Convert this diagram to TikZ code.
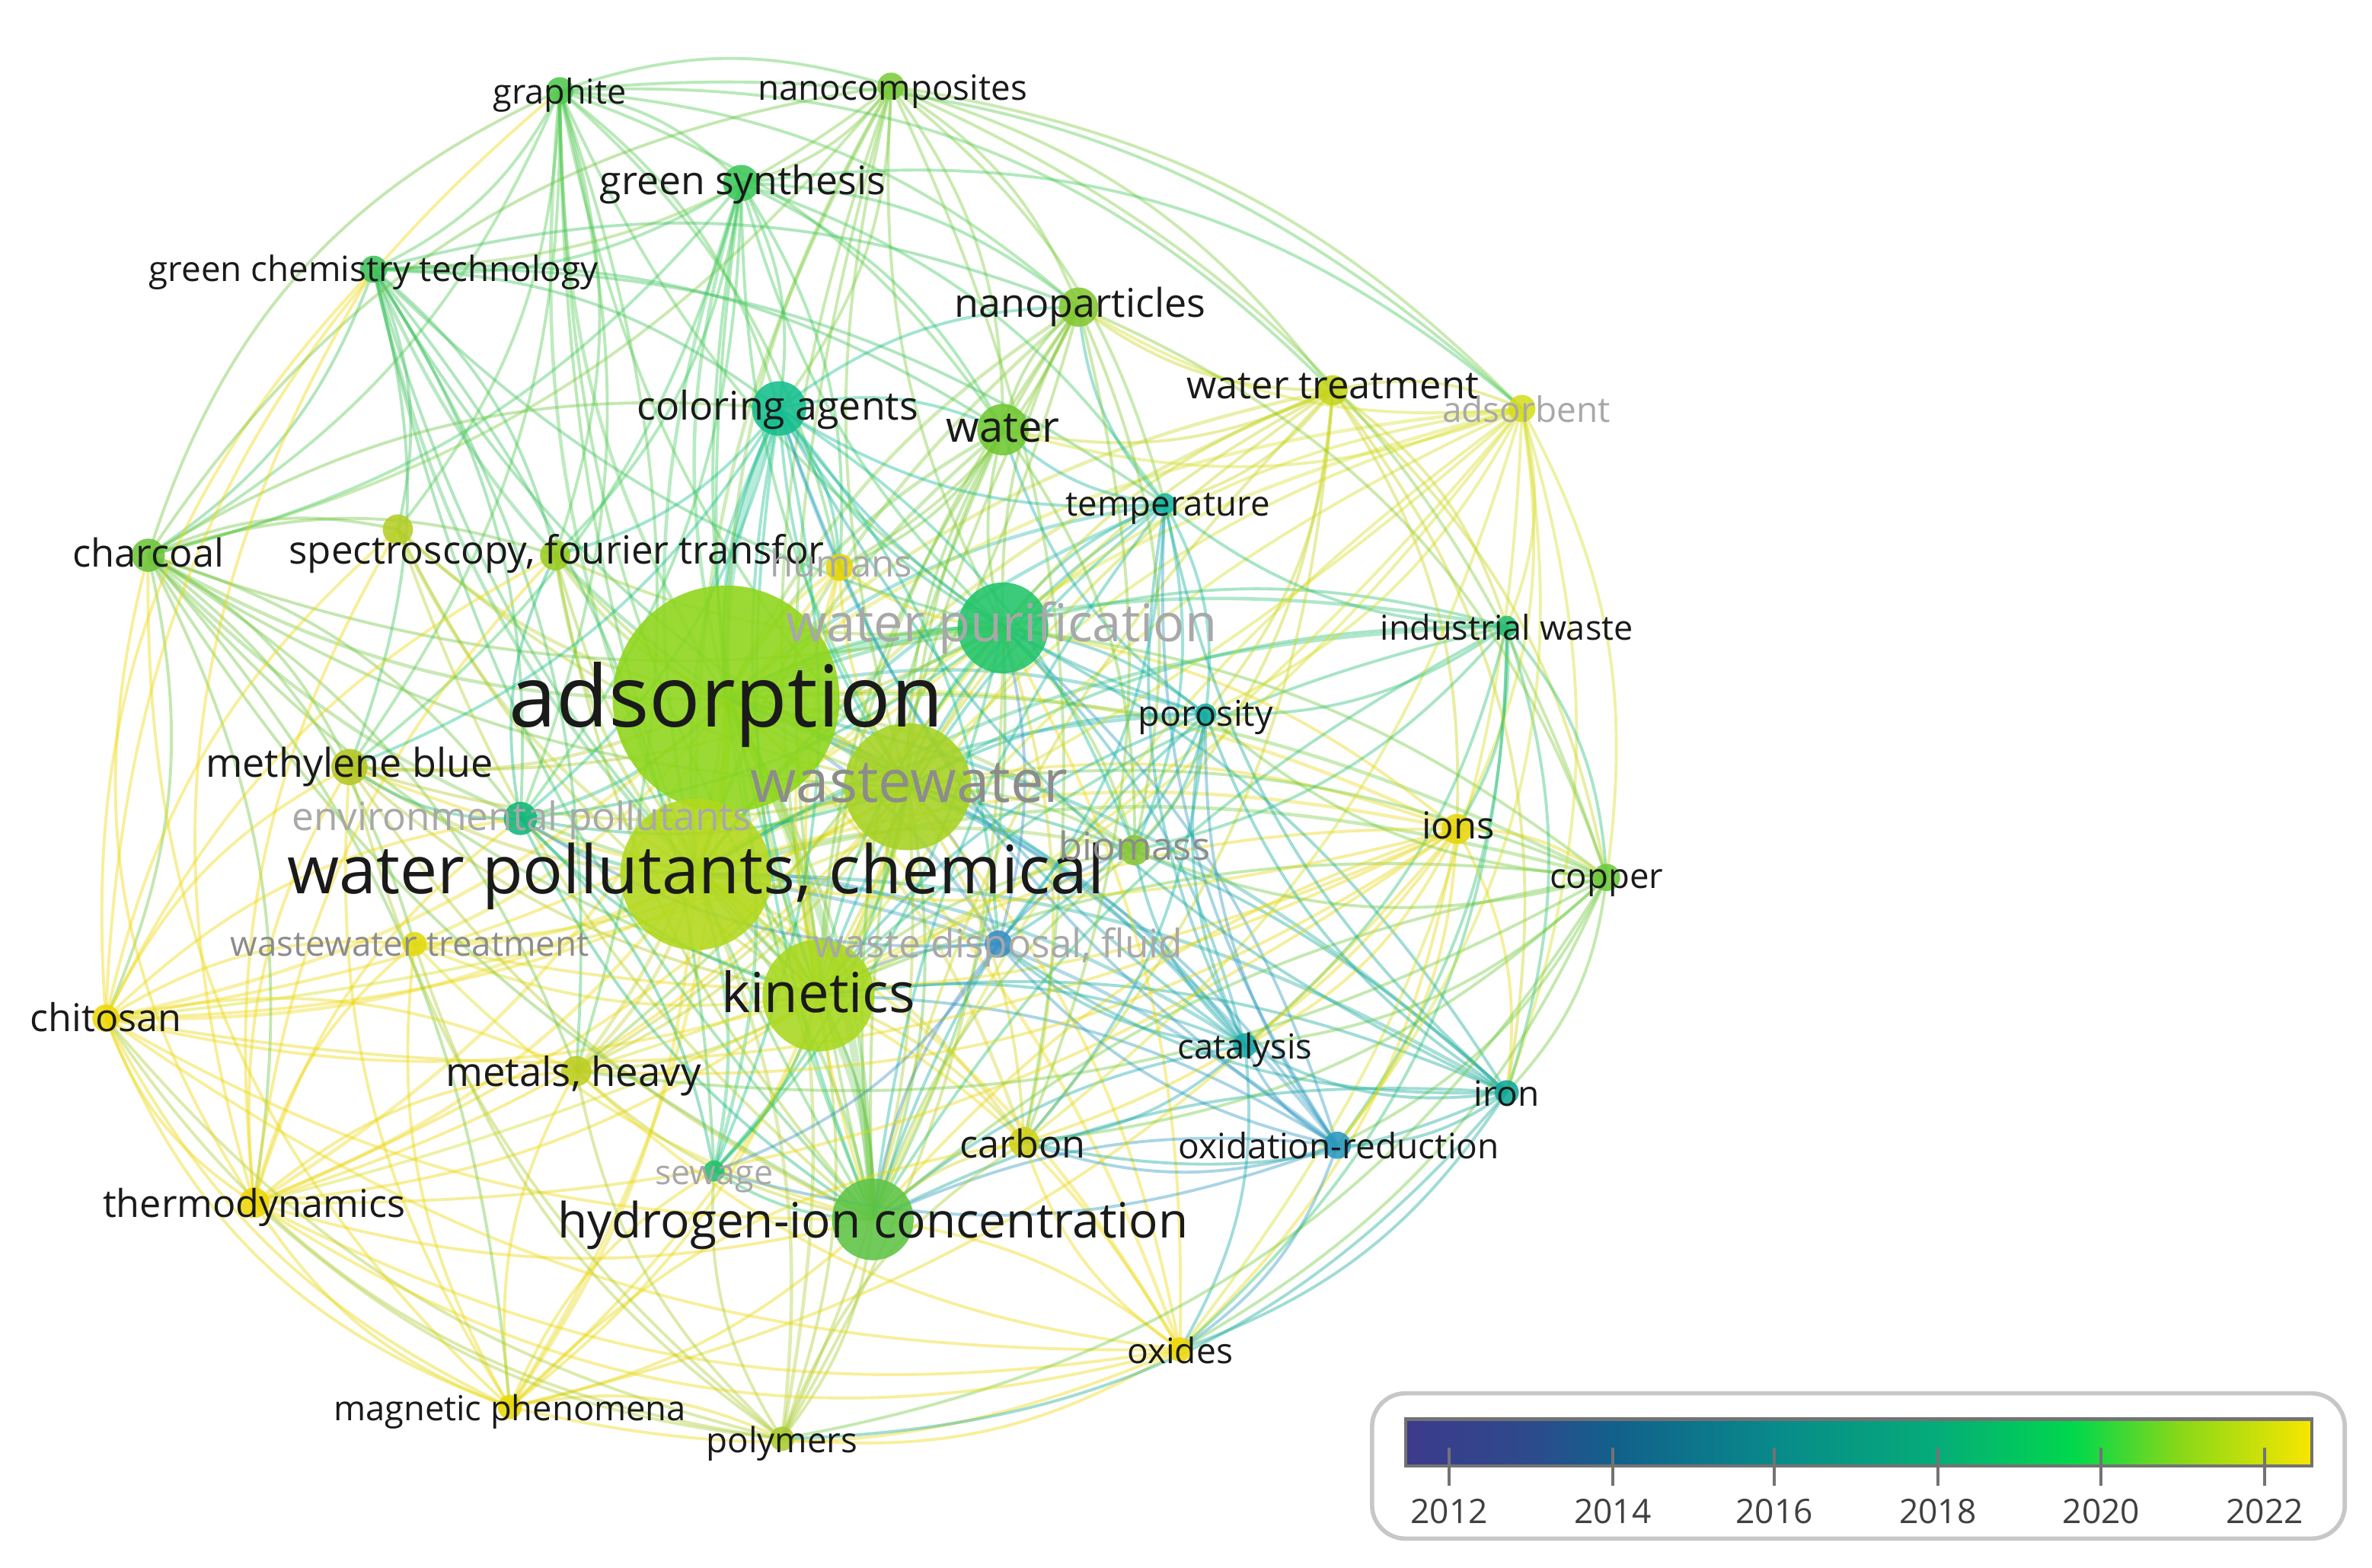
\documentclass[tikz,border=0pt]{standalone}
\usepackage{fontspec}
\setmainfont{Open Sans}
\usepackage{graphicx}
\newdimen\ux \ux=0.019866cm
\pgfdeclarelayer{bg}
\pgfdeclarelayer{edges}
\pgfsetlayers{bg,edges,main}
% node colours
\definecolor{cads}{HTML}{8ED61A}\definecolor{cwpc}{HTML}{B2D81C}\definecolor{cww}{HTML}{A6D222}
\definecolor{ckin}{HTML}{A8D81E}\definecolor{cpur}{HTML}{22C468}\definecolor{chic}{HTML}{5EC446}
\definecolor{ccol}{HTML}{14BE8E}\definecolor{cwat}{HTML}{70C832}\definecolor{cnanop}{HTML}{84C832}
\definecolor{cgsyn}{HTML}{3CC85A}\definecolor{cgraph}{HTML}{50C850}\definecolor{cnanoc}{HTML}{7CCC3C}
\definecolor{cgct}{HTML}{3EC25E}\definecolor{cchar}{HTML}{6CC43A}\definecolor{cspec}{HTML}{9ACC22}
\definecolor{cunk}{HTML}{B4CE26}\definecolor{chum}{HTML}{E6D606}\definecolor{ctemp}{HTML}{14B6A2}
\definecolor{cwtr}{HTML}{C6D41A}\definecolor{cadsb}{HTML}{D6DE1E}\definecolor{cind}{HTML}{26BE72}
\definecolor{cpor}{HTML}{16AEA4}\definecolor{cions}{HTML}{E8D60C}\definecolor{ccop}{HTML}{6CCA3A}
\definecolor{cbio}{HTML}{88C836}\definecolor{cwdf}{HTML}{3A8EC2}\definecolor{cenv}{HTML}{12B67A}
\definecolor{cmb}{HTML}{B6C622}\definecolor{cwwt}{HTML}{E2DA10}\definecolor{cchit}{HTML}{EED806}
\definecolor{cmet}{HTML}{BECE22}\definecolor{ccat}{HTML}{18A8AA}\definecolor{ciron}{HTML}{12A898}
\definecolor{credox}{HTML}{2A98C0}\definecolor{ccarb}{HTML}{D2D21C}\definecolor{csew}{HTML}{22C070}
\definecolor{cthermo}{HTML}{EED604}\definecolor{coxid}{HTML}{EED808}\definecolor{cmag}{HTML}{E8D806}
\definecolor{cpoly}{HTML}{A8CC2E}
% legend colours
\definecolor{v0}{HTML}{3D3A8C}\definecolor{v1}{HTML}{2D4A8C}\definecolor{v2}{HTML}{12608C}
\definecolor{v3}{HTML}{088A8A}\definecolor{v4}{HTML}{05AD78}\definecolor{v5}{HTML}{00D84C}
\definecolor{v6}{HTML}{88D818}\definecolor{v7}{HTML}{F8E600}
\pgfdeclarehorizontalshading{viridisbar}{100bp}{color(0bp)=(v0); color(25bp)=(v0); color(31.8bp)=(v1); color(36.5bp)=(v2); color(45.45bp)=(v3); color(54.5bp)=(v4); color(61.9bp)=(v5); color(67.7bp)=(v6); color(75bp)=(v7); color(100bp)=(v7)}
\definecolor{faint}{HTML}{A8A8A8}
\definecolor{mid}{HTML}{8C8C8C}
\definecolor{txt}{HTML}{1A1A1A}
\newcommand\lbl[5]{\node[lab, text=#5] (#1) at (#2) {\resizebox{#3\ux}{!}{#4\vphantom{dp}}};}
\begin{document}
\begin{tikzpicture}[x=\ux, y=-\ux,
  kw/.style={circle, inner sep=0pt, fill opacity=0.88, draw=none},
  rad/.style={minimum size=2*#1*\ux},
  lab/.style={inner sep=0pt, anchor=center, yshift=-3\ux},
  lk/.style={draw=#1, line width=1.1pt, draw opacity=0.4},
  lkh/.style={draw=#1, line width=1.3pt, draw opacity=0.36},
  lkw/.style={draw=#1, line width=3pt, draw opacity=0.3},
  tick/.style={draw=black!55, line width=1.1pt}]
\useasboundingbox (0,0) rectangle (1568,1036);
\begin{pgfonlayer}{bg}
\fill[white] (0,0) rectangle (1568,1036);
\end{pgfonlayer}
% ---------- nodes (largest first) ----------
\node[kw, rad=75, fill=cads] (ads) at (480,462) {};
\node[kw, rad=50, fill=cwpc] (wpc) at (460,578) {};
\node[kw, rad=42, fill=cww] (ww) at (600,520) {};
\node[kw, rad=37, fill=ckin] (kin) at (541,658) {};
\node[kw, rad=30, fill=cpur] (pur) at (663,415) {};
\node[kw, rad=27, fill=chic] (hic) at (577,806) {};
\node[kw, rad=18, fill=ccol] (col) at (515,270) {};
\node[kw, rad=17, fill=cwat] (wat) at (663,284) {};
\node[kw, rad=13, fill=cnanop] (nanop) at (713,203) {};
\node[kw, rad=12, fill=cgsyn] (gsyn) at (490,121) {};
\node[kw, rad=9, fill=cgraph] (graph) at (370,60) {};
\node[kw, rad=9, fill=cnanoc] (nanoc) at (589,57) {};
\node[kw, rad=9, fill=cgct] (gct) at (247,178) {};
\node[kw, rad=11, fill=cchar] (char) at (98,367) {};
\node[kw, rad=10, fill=cspec] (spec) at (367,367) {};
\node[kw, rad=10, fill=cunk] (unk) at (263,350) {};
\node[kw, rad=9, fill=chum] (hum) at (555,375) {};
\node[kw, rad=7, fill=ctemp] (temp) at (770,333) {};
\node[kw, rad=10, fill=cwtr] (wtr) at (881,258) {};
\node[kw, rad=9, fill=cadsb] (adsb) at (1006,270) {};
\node[kw, rad=7, fill=cind] (ind) at (996,414) {};
\node[kw, rad=7, fill=cpor] (por) at (797,472) {};
\node[kw, rad=10, fill=cions] (ions) at (963,548) {};
\node[kw, rad=9, fill=ccop] (cop) at (1062,580) {};
\node[kw, rad=10, fill=cbio] (bio) at (750,562) {};
\node[kw, rad=9, fill=cwdf] (wdf) at (660,624) {};
\node[kw, rad=11, fill=cenv] (env) at (344,541) {};
\node[kw, rad=12, fill=cmb] (mb) at (231,507) {};
\node[kw, rad=8, fill=cwwt] (wwt) at (274,624) {};
\node[kw, rad=9, fill=cchit] (chit) at (70,673) {};
\node[kw, rad=10, fill=cmet] (met) at (381,708) {};
\node[kw, rad=8, fill=ccat] (cat) at (823,691) {};
\node[kw, rad=8, fill=ciron] (iron) at (996,722) {};
\node[kw, rad=9, fill=credox] (redox) at (884,757) {};
\node[kw, rad=10, fill=ccarb] (carb) at (677,755) {};
\node[kw, rad=7, fill=csew] (sew) at (472,774) {};
\node[kw, rad=10, fill=cthermo] (thermo) at (168,795) {};
\node[kw, rad=8, fill=coxid] (oxid) at (780,892) {};
\node[kw, rad=8, fill=cmag] (mag) at (337,930) {};
\node[kw, rad=8, fill=cpoly] (poly) at (517,951) {};
% ---------- links ----------
\begin{pgfonlayer}{edges}
\foreach \a/\b in {ads/wpc,ads/ww,ads/kin,wpc/kin,ww/kin,ads/pur,wpc/ww,ads/hic,kin/hic,ads/col}
  \draw[lkw=c\b] (\a.center) to[bend left=12] (\b.center);
\foreach \b in {wpc,ww,kin,pur,hic,col,wat,nanop,gsyn,graph,nanoc,gct,char,spec,unk,hum,temp,wtr,adsb,ind,por,ions,cop,bio,wdf,env,mb,wwt,chit,met,cat,iron,redox,carb,sew,thermo,oxid,mag,poly}
  \draw[lkh=c\b] (ads.center) to[bend left=15] (\b.center);
\foreach \b in {ww,kin,pur,hic,col,wat,nanop,gsyn,graph,nanoc,gct,char,spec,unk,hum,temp,wtr,adsb,ind,por,ions,cop,bio,wdf,env,mb,wwt,chit,met,cat,iron,redox,carb,sew,thermo,oxid,mag,poly}
  \draw[lkh=c\b] (wpc.center) to[bend left=15] (\b.center);
\foreach \b in {kin,pur,hic,col,wat,nanop,gsyn,graph,nanoc,gct,char,spec,unk,hum,temp,wtr,adsb,ind,por,ions,cop,bio,wdf,env,mb,wwt,chit,met,cat,iron,redox,carb,sew,thermo,oxid,mag,poly}
  \draw[lk=c\b] (ww.center) to[bend left=15] (\b.center);
\foreach \b in {pur,hic,col,wat,nanop,gsyn,graph,nanoc,gct,char,spec,unk,hum,temp,wtr,adsb,ind,por,ions,cop,bio,wdf,env,mb,wwt,chit,met,cat,iron,redox,carb,sew,thermo,oxid,mag,poly}
  \draw[lk=c\b] (kin.center) to[bend left=15] (\b.center);
\foreach \b in {hic,col,wat,nanop,gsyn,graph,nanoc,gct,char,spec,hum,temp,wtr,adsb,ind,por,ions,cop,bio,wdf,env,mb,chit,met,cat,iron,redox,carb,sew,thermo,oxid,poly}
  \draw[lk=c\b] (pur.center) to[bend left=15] (\b.center);
\foreach \b in {col,wat,nanop,gsyn,graph,nanoc,gct,char,spec,unk,hum,temp,wtr,adsb,ind,por,ions,cop,bio,wdf,env,mb,wwt,chit,met,cat,iron,redox,carb,sew,thermo,oxid,mag,poly}
  \draw[lk=c\b] (hic.center) to[bend left=15] (\b.center);
\foreach \a/\b in {graph/gsyn,graph/nanoc,graph/gct,graph/col,graph/char,graph/spec,graph/nanop,graph/wat,graph/met,graph/env,graph/mb,graph/unk,graph/hum,
  nanoc/gsyn,nanoc/nanop,nanoc/wat,nanoc/col,nanoc/gct,nanoc/carb,nanoc/char,nanoc/wtr,nanoc/adsb,nanoc/temp,
  gsyn/gct,gsyn/nanop,gsyn/col,gsyn/wat,gsyn/char,gsyn/spec,gsyn/env,gsyn/mb,gsyn/temp,gsyn/hum,
  gct/char,gct/col,gct/spec,gct/unk,gct/env,gct/mb,gct/met,gct/sew,gct/wat,gct/temp,gct/nanop,
  char/spec,char/unk,char/mb,char/chit,char/env,char/thermo,char/met,char/wwt,char/col,char/mag,
  wtr/adsb,wtr/nanop,wtr/ind,wtr/ions,wtr/cop,wtr/temp,wtr/wat,wtr/por,wtr/bio,wtr/carb,
  adsb/ind,adsb/ions,adsb/cop,adsb/por,adsb/nanop,adsb/wat,adsb/carb,adsb/oxid,adsb/iron,adsb/thermo,adsb/chit,adsb/met,
  ind/ions,ind/cop,ind/por,ind/iron,ind/cat,ind/redox,ind/bio,ind/temp,
  ions/cop,ions/iron,ions/redox,ions/cat,ions/carb,ions/oxid,ions/met,ions/thermo,ions/chit,ions/wwt,ions/mag,ions/mb,
  cop/iron,cop/cat,cop/redox,cop/carb,cop/oxid,cop/met,cop/por,cop/bio,
  iron/redox,iron/cat,iron/wdf,iron/por,iron/temp,iron/oxid,iron/carb,iron/col,
  redox/cat,redox/wdf,redox/carb,redox/oxid,redox/por,redox/temp,redox/col,redox/sew,
  cat/wdf,cat/carb,cat/por,cat/temp,cat/bio,cat/col,cat/oxid,
  oxid/carb,oxid/mag,oxid/poly,oxid/thermo,oxid/met,oxid/chit,
  mag/poly,mag/thermo,mag/chit,mag/wwt,mag/met,mag/carb,mag/sew,mag/mb,
  poly/thermo,poly/chit,poly/met,poly/carb,poly/sew,poly/mb,poly/wwt,
  thermo/chit,thermo/wwt,thermo/mb,thermo/met,thermo/env,thermo/unk,thermo/spec,
  chit/wwt,chit/mb,chit/met,chit/env,chit/spec,chit/unk,
  temp/por,temp/col,temp/wat,temp/wdf,temp/nanop,temp/bio,
  por/bio,por/wdf,por/col,por/wat,por/carb,
  col/wat,col/nanop,col/env,col/mb,col/wdf,col/spec,col/hum,col/sew,col/bio,
  wat/nanop,wat/hum,wat/bio,
  nanop/hum,nanop/bio,nanop/carb,nanop/met,
  wdf/env,wdf/sew,wdf/bio,
  env/mb,env/spec,env/sew}
  \draw[lk=c\a] (\a.center) to[bend left=18] (\b.center);
% outer arcs (clockwise, bulging outward)
\foreach \a/\b in {chit/gct,chit/graph,char/graph,char/nanoc,thermo/char,thermo/gct,mag/chit,mag/char,
  cop/poly,iron/poly,graph/adsb,graph/wtr,nanoc/cop,gsyn/adsb,ind/oxid,wtr/iron,adsb/redox,nanop/cop,poly/chit,oxid/thermo}
  \draw[lk=c\a] (\a.center) to[bend left=24] (\b.center);
\end{pgfonlayer}
% ---------- labels ----------
\lbl{ads-l}{480,463}{287}{adsorption}{txt}
\lbl{wpc-l}{460,576}{540}{water pollutants, chemical}{txt}
\lbl{ww-l}{601,517}{210}{wastewater}{mid}
\lbl{kin-l}{541,657}{128}{kinetics}{txt}
\lbl{pur-l}{662,412}{285}{water purification}{faint}
\lbl{hic-l}{577,807}{417}{hydrogen-ion concentration}{txt}
\lbl{col-l}{514,268}{186}{coloring agents}{txt}
\lbl{wat-l}{663,282}{75}{water}{txt}
\lbl{nanop-l}{714,200}{166}{nanoparticles}{txt}
\lbl{gsyn-l}{491,119}{189}{green synthesis}{txt}
\lbl{graph-l}{370,60}{88}{graphite}{txt}
\lbl{nanoc-l}{590,57}{178}{nanocomposites}{txt}
\lbl{gct-l}{247,177}{297}{green chemistry technology}{txt}
\lbl{char-l}{98,365}{100}{charcoal}{txt}
\lbl{spec-l}{368,363}{354}{spectroscopy, fourier transfor}{txt}
\lbl{hum-l}{556,372}{94}{humans}{faint}
\lbl{temp-l}{772,332}{135}{temperature}{txt}
\lbl{wtr-l}{881,254}{193}{water treatment}{txt}
\lbl{adsb-l}{1009,270}{111}{adsorbent}{faint}
\lbl{ind-l}{996,414}{167}{industrial waste}{txt}
\lbl{por-l}{797,471}{89}{porosity}{txt}
\lbl{ions-l}{964,545}{48}{ions}{txt}
\lbl{cop-l}{1062,578}{75}{copper}{txt}
\lbl{bio-l}{750,559}{100}{biomass}{mid}
\lbl{wdf-l}{660,623}{244}{waste disposal, fluid}{faint}
\lbl{env-l}{345,539}{304}{environmental pollutants}{faint}
\lbl{mb-l}{231,504}{190}{methylene blue}{txt}
\lbl{wwt-l}{271,623}{237}{wastewater treatment}{mid}
\lbl{chit-l}{70,672}{100}{chitosan}{txt}
\lbl{met-l}{379,708}{169}{metals, heavy}{txt}
\lbl{cat-l}{823,691}{89}{catalysis}{txt}
\lbl{iron-l}{996,722}{43}{iron}{txt}
\lbl{redox-l}{885,757}{212}{oxidation-reduction}{txt}
\lbl{carb-l}{676,756}{83}{carbon}{txt}
\lbl{sew-l}{472,774}{78}{sewage}{faint}
\lbl{thermo-l}{168,795}{200}{thermodynamics}{txt}
\lbl{oxid-l}{780,892}{70}{oxides}{txt}
\lbl{mag-l}{337,930}{233}{magnetic phenomena}{txt}
\lbl{poly-l}{517,951}{100}{polymers}{txt}
% ---------- legend ----------
\draw[draw=black!22, line width=1.6pt, fill=white, rounded corners=22\ux] (907,921) rectangle (1550,1017);
\node[draw=black!55, line width=1.2pt, shading=viridisbar, inner sep=0pt, anchor=north west, minimum width=599\ux, minimum height=31\ux] (bar) at (928,937) {};
\foreach \x/\yr in {958/2012,1066/2014,1173/2016,1281/2018,1389/2020,1497/2022}{
  \draw[tick] (\x,957) -- (\x,982);
  \node[lab, text=black!75] (yr\yr) at (\x,998) {\resizebox{51\ux}{!}{\yr\vphantom{dp}}};
}
\end{tikzpicture}
\end{document}
